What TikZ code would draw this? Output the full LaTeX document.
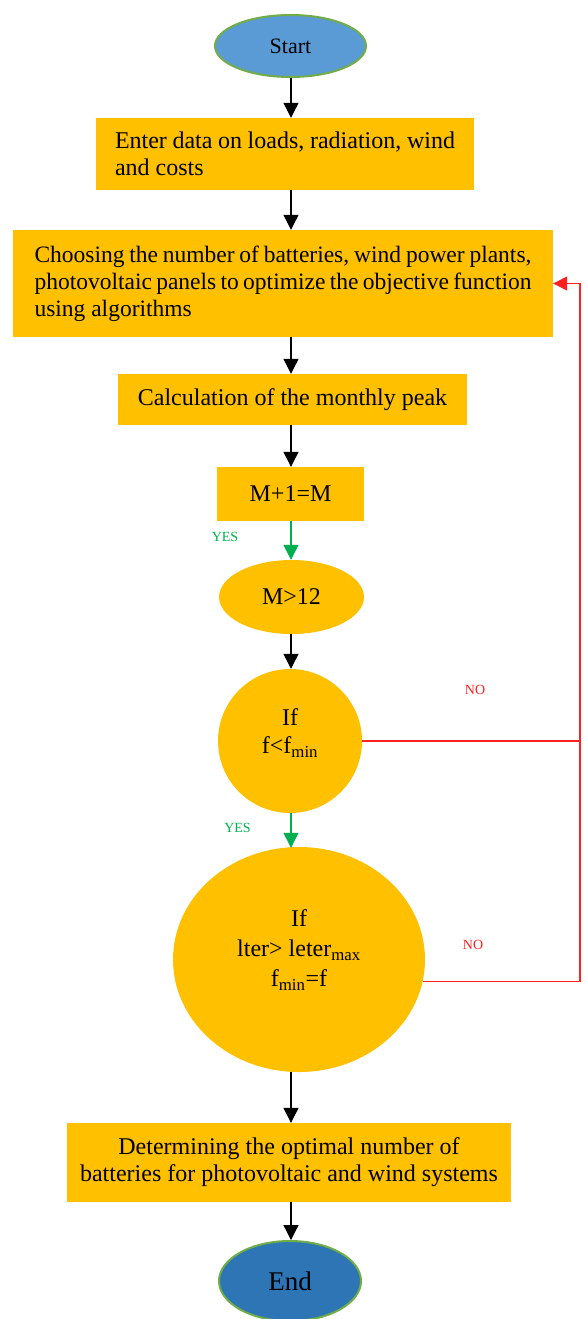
\documentclass[tikz,border=0pt]{standalone}
\usepackage{fontspec}
\setmainfont{Liberation Serif}
\usetikzlibrary{shapes.geometric,arrows.meta}
\definecolor{boxor}{HTML}{FFC000}
\definecolor{startblue}{HTML}{5B9BD5}
\definecolor{endblue}{HTML}{2E75B6}
\definecolor{termgreen}{HTML}{70AD47}
\definecolor{yesgreen}{HTML}{00B050}
\definecolor{nored}{HTML}{FF2020}
% #1 = extra depth (twice the upward shift of the text)
\newcommand{\liftlines}[2]{\raisebox{0pt}[\height][\dimexpr\depth+#1\relax]{\begin{tabular}{@{}c@{}}#2\end{tabular}}}
\begin{document}
\begin{tikzpicture}[x=1pt,y=1pt,
  proc/.style={rectangle, fill=boxor, inner sep=0pt, font=\fontsize{24}{27}\selectfont},
  dec/.style={ellipse, fill=boxor, inner sep=0pt, align=center, font=\fontsize{24}{30}\selectfont},
  term/.style={ellipse, draw=termgreen, line width=2pt, inner sep=0pt},
  arr/.style={-{Triangle[width=15pt,length=15pt]}, line width=1.2pt},
  garr/.style={arr, draw=yesgreen},
  fbline/.style={draw=nored, line width=1.3pt},
  yes/.style={text=yesgreen, font=\fontsize{14}{16}\selectfont, inner sep=0pt},
  no/.style={text=nored, font=\fontsize{14}{16}\selectfont, inner sep=0pt},
]
\useasboundingbox (0,0) rectangle (584,-1319);
\coordinate (ax) at (291,0);
\coordinate (fb) at (580,0);

\node[term, fill=startblue, minimum width=151pt, minimum height=62pt, font=\fontsize{22}{26}\selectfont] (start) at (290.5,-46) {Start};

\node[proc, minimum width=378pt, minimum height=72pt, text width=340pt, align=justify] (b1) at (285,-154)
  {Enter data on loads, radiation, wind\linebreak and costs};

\node[proc, minimum width=540pt, minimum height=107pt, text width=497pt, align=justify, font=\fontsize{23.5}{27}\selectfont] (b2) at (283,-283.5)
  {Choosing the number of batteries, wind power plants,\linebreak photovoltaic panels to optimize the objective function\linebreak using algorithms};

\node[proc, minimum width=349pt, minimum height=51pt] (b3) at (292.5,-399.5) {Calculation of the monthly peak};

\node[proc, minimum width=147pt, minimum height=54pt] (b4) at (290.5,-494) {M+1=M};

\node[dec, minimum width=145pt, minimum height=74pt] (m12) at (291.5,-597) {M>12};

\node[dec, circle, minimum size=144pt, font=\fontsize{24}{28}\selectfont] (c1) at (290,-741)
  {\liftlines{14pt}{If\\f<f\textsubscript{min}}};

\node[dec, minimum width=252pt, minimum height=225pt, font=\fontsize{24}{30}\selectfont] (ell) at (299,-959.5)
  {\liftlines{18pt}{If\\lter> leter\textsubscript{max}\\f\textsubscript{min}=f}};

\node[proc, minimum width=444pt, minimum height=79pt, align=center] (b5) at (289,-1162.5)
  {Determining the optimal number of\\batteries for photovoltaic and wind systems};

\node[term, fill=endblue, minimum width=142pt, minimum height=80pt, font=\fontsize{27}{30}\selectfont] (end) at (290,-1281) {End};

% main flow
\draw[arr] (start.south -| ax) -- (b1.north -| ax);
\draw[arr] (b1.south -| ax) -- (b2.north -| ax);
\draw[arr] (b2.south -| ax) -- (b3.north -| ax);
\draw[arr] (b3.south -| ax) -- (b4.north -| ax);
\draw[garr] (b4.south -| ax) -- (m12.north -| ax);
\draw[arr] (m12.south -| ax) -- (c1.north -| ax);
\draw[garr] (c1.south -| ax) -- ([yshift=-1pt]ell.north -| ax);
\draw[arr] (ell.south -| ax) -- (b5.north -| ax);
\draw[arr] (b5.south -| ax) -- (end.north -| ax);

% feedback
\draw[fbline] (c1.east) -- (c1.east -| fb);
\draw[fbline, -{Triangle[width=14pt,length=14pt]}] (ell.-10) -- (ell.-10 -| fb) -- (fb |- b2.east) -- (b2.east);

% labels
\node[yes] (y1) at (225,-537) {YES};
\node[yes] (y2) at (237.5,-828) {YES};
\node[no] (n1) at (475,-690) {NO};
\node[no] (n2) at (473,-945) {NO};
\end{tikzpicture}
\end{document}
